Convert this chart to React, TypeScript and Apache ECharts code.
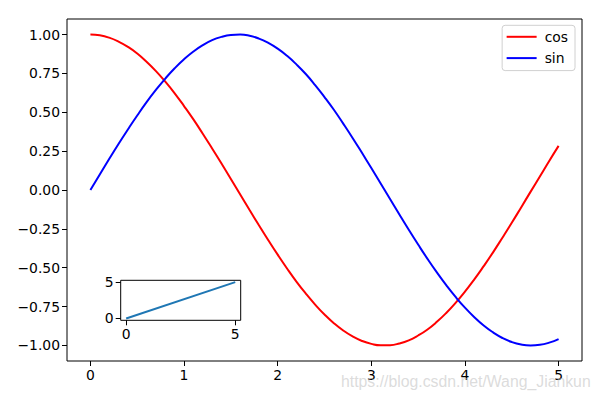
import React, { useEffect, useRef } from "react";
import * as echarts from "echarts";

const xValues = [
  0, 0.1, 0.2, 0.3, 0.4, 0.5, 0.6, 0.7, 0.8, 0.9, 1.0, 1.1, 1.2, 1.3, 1.4, 1.5, 1.6, 1.7, 1.8, 1.9,
  2.0, 2.1, 2.2, 2.3, 2.4, 2.5, 2.6, 2.7, 2.8, 2.9, 3.0, 3.1, 3.2, 3.3, 3.4, 3.5, 3.6, 3.7, 3.8, 3.9,
  4.0, 4.1, 4.2, 4.3, 4.4, 4.5, 4.6, 4.7, 4.8, 4.9, 5.0,
];
const cosValues = [
  1.0, 0.995, 0.98, 0.955, 0.921, 0.878, 0.825, 0.765, 0.697, 0.622, 0.54, 0.454, 0.362, 0.267, 0.17,
  0.071, -0.029, -0.129, -0.227, -0.323, -0.416, -0.505, -0.589, -0.666, -0.737, -0.801, -0.857, -0.904,
  -0.942, -0.971, -0.99, -0.999, -0.998, -0.987, -0.967, -0.936, -0.897, -0.848, -0.791, -0.726, -0.654,
  -0.575, -0.49, -0.401, -0.307, -0.211, -0.112, -0.012, 0.087, 0.187, 0.284,
];
const sinValues = [
  0.0, 0.1, 0.199, 0.296, 0.389, 0.479, 0.565, 0.644, 0.717, 0.783, 0.841, 0.891, 0.932, 0.964, 0.985,
  0.997, 1.0, 0.992, 0.974, 0.946, 0.909, 0.863, 0.808, 0.746, 0.675, 0.598, 0.516, 0.427, 0.335, 0.239,
  0.141, 0.042, -0.058, -0.158, -0.256, -0.351, -0.443, -0.53, -0.612, -0.688, -0.757, -0.818, -0.872,
  -0.916, -0.952, -0.978, -0.994, -1.0, -0.996, -0.982, -0.959,
];
const insetX = [0, 5];
const insetY = [0, 5];

const mainXTicks = [0, 1, 2, 3, 4, 5];
const mainYTicks = [-1, -0.75, -0.5, -0.25, 0, 0.25, 0.5, 0.75, 1];
const insetTicks = [0, 5];
const watermark = "https://blog.csdn.net/Wang_Jiankun";

const FONT = "DejaVu Sans";

const fmtY = (v: number) => {
  const s = Math.abs(v).toFixed(2);
  return v < -1e-9 ? "\u2212" + s : s;
};

export default function App() {
  const ref = useRef<HTMLDivElement>(null);
  useEffect(() => {
    if (!ref.current) return;
    const chart = echarts.init(ref.current, undefined, { renderer: "svg" });
    const axisLine = { show: false, onZero: false };
    const tick = { show: true, inside: false, length: 5, lineStyle: { color: "#000", width: 1 } };
    const labelStyle = { color: "#000", fontFamily: FONT, fontSize: 13.9 };
    chart.setOption({
      animation: false,
      backgroundColor: "#fff",
      grid: [
        { left: 67, top: 19, width: 515, height: 342, show: true, borderColor: "#000", borderWidth: 1, backgroundColor: "transparent" },
        { left: 120.7, top: 280.3, width: 120, height: 40, show: true, borderColor: "#000", borderWidth: 1, backgroundColor: "#fff", z: 10 },
      ],
      xAxis: [
        {
          type: "value", gridIndex: 0, position: "bottom", min: -0.25, max: 5.25, axisLine, splitLine: { show: false },
          axisTick: { ...tick, customValues: mainXTicks },
          axisLabel: { ...labelStyle, margin: 7, customValues: mainXTicks, formatter: (v: number) => String(v) },
        },
        {
          type: "value", gridIndex: 1, position: "bottom", min: -0.25, max: 5.25, axisLine, splitLine: { show: false }, z: 10,
          axisTick: { ...tick, customValues: insetTicks },
          axisLabel: { ...labelStyle, margin: 7, customValues: insetTicks, formatter: (v: number) => String(v) },
        },
      ],
      yAxis: [
        {
          type: "value", gridIndex: 0, position: "left", min: -1.1, max: 1.1, axisLine, splitLine: { show: false },
          axisTick: { ...tick, customValues: mainYTicks },
          axisLabel: { ...labelStyle, margin: 7, customValues: mainYTicks, formatter: fmtY },
        },
        {
          type: "value", gridIndex: 1, position: "left", min: -0.25, max: 5.25, axisLine, splitLine: { show: false }, z: 10,
          axisTick: { ...tick, customValues: insetTicks },
          axisLabel: { ...labelStyle, margin: 7, customValues: insetTicks, formatter: (v: number) => String(v) },
        },
      ],
      legend: {
        right: 25,
        top: 25.3,
        orient: "vertical",
        itemWidth: 30,
        itemHeight: 14,
        itemGap: 7.3,
        padding: [4.5, 7, 5.5, 4.5],
        borderColor: "#d0d0d0",
        borderWidth: 1,
        borderRadius: 3,
        backgroundColor: "rgba(255,255,255,0.8)",
        textStyle: { color: "#000", fontFamily: FONT, fontSize: 13.9, padding: [0, 0, 0, 3] },
        data: [
          { name: "cos", icon: "path://M0,0 L30,0 L30,2 L0,2 Z" },
          { name: "sin", icon: "path://M0,0 L30,0 L30,2 L0,2 Z" },
        ],
      },
      series: [
        {
          name: "cos", type: "line", xAxisIndex: 0, yAxisIndex: 0, showSymbol: false, symbol: "none",
          smooth: true,
          lineStyle: { color: "#ff0000", width: 2 }, itemStyle: { color: "#ff0000" },
          data: xValues.map((x, i) => [x, cosValues[i]]),
        },
        {
          name: "sin", type: "line", xAxisIndex: 0, yAxisIndex: 0, showSymbol: false, symbol: "none",
          smooth: true,
          lineStyle: { color: "#0000ff", width: 2 }, itemStyle: { color: "#0000ff" },
          data: xValues.map((x, i) => [x, sinValues[i]]),
        },
        {
          name: "inset", type: "line", xAxisIndex: 1, yAxisIndex: 1, showSymbol: false, symbol: "none", z: 11,
          lineStyle: { color: "#1f77b4", width: 2 },
          data: insetX.map((x, i) => [x, insetY[i]]),
        },
      ],
      graphic: [
        {
          type: "text",
          left: 341,
          top: 373,
          z: 100,
          style: {
            text: watermark,
            fill: "rgba(190,190,190,0.55)",
            font: "15.8px 'Liberation Sans', Arial, sans-serif",
          },
        },
      ],
    });
    return () => chart.dispose();
  }, []);
  return <div ref={ref} style={{ width: 600, height: 400, position: "absolute", left: 0, top: 0 }} />;
}
